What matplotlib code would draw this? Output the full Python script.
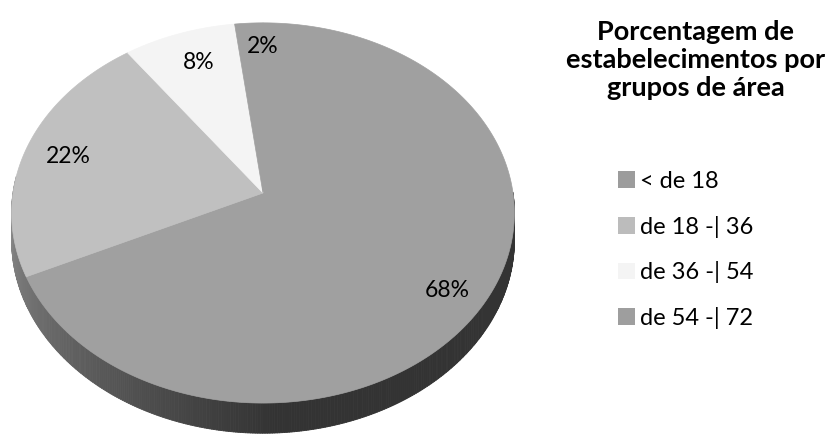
import numpy as np
import matplotlib

matplotlib.use("Agg")
import matplotlib.pyplot as plt  # noqa: E402
from matplotlib.collections import PolyCollection  # noqa: E402
from matplotlib.patches import Polygon, Patch  # noqa: E402

# ---- data (percent of establishments by area group) ----
categories = ["< de 18", "de 18 -| 36", "de 36 -| 54", "de 54 -| 72"]
shares = [68, 22, 8, 2]
colors = ["#a0a0a0", "#c0c0c0", "#f4f4f4", "#a0a0a0"]
legend_colors = ["#9c9c9c", "#bcbcbc", "#f4f4f4", "#9e9e9e"]
title = "Porcentagem de\nestabelecimentos por\ngrupos de área"

# ---- fake 3D geometry, in figure pixels ----
W, H = 828, 434
CX, CY = 263, 193      # projected centre of the pie
RX, RY = 250, 188      # radii of the rim
K = 0.105              # perspective: far side shrinks
DEPTH = 27             # thickness of the disc
LABEL_R = [0.86, 0.82, 0.80, 0.80]
LABEL_NUDGE = [(-7, 6), (0, 1), (4, -1), (11, -8)]

plt.rcParams["font.family"] = ["Lato", "DejaVu Sans"]


def proj(phi, r=1.0, z=0.0):
    s = 1.0 / (1.0 + K * r * np.sin(phi))
    x = CX + RX * r * np.cos(phi) * s
    y = CY - RY * r * np.sin(phi) * s + z * s
    return x, y


def side_shade(phi_deg):
    return 0.32 + np.clip(272 - phi_deg, 0, None) * 0.006


fig = plt.figure(figsize=(W / 100, H / 100), dpi=100)
ax = fig.add_axes([0, 0, 1, 1])
ax.set_xlim(0, W)
ax.set_ylim(H, 0)
ax.axis("off")

# slice angles: start at 12 o'clock, clockwise
bounds = 90 - 3.6 * np.concatenate([[0], np.cumsum(shares)])

# ---- side wall (front half only) ----
quads, qcols = [], []
for i, c in enumerate(colors):
    a0, a1 = bounds[i], bounds[i + 1]
    angs = np.linspace(a0, a1, max(4, int(abs(a1 - a0) * 2)))
    base = np.array(matplotlib.colors.to_rgb(c))
    for p, q in zip(angs[:-1], angs[1:]):
        pm = ((p + q) / 2) % 360
        if pm < 175:
            continue
        x1, y1 = proj(np.radians(p))
        x2, y2 = proj(np.radians(q))
        x3, y3 = proj(np.radians(q), z=DEPTH)
        x4, y4 = proj(np.radians(p), z=DEPTH)
        quads.append([(x1, y1), (x2, y2), (x3, y3), (x4, y4)])
        qcols.append(np.clip(base * side_shade(pm) / base.mean() * 0.63, 0, 1))
ax.add_collection(PolyCollection(quads, facecolors=qcols, edgecolors=qcols,
                                 linewidths=0.6, zorder=1))

# ---- top face ----
for i, c in enumerate(colors):
    a0, a1 = bounds[i], bounds[i + 1]
    angs = np.radians(np.linspace(a0, a1, max(3, int(abs(a1 - a0) * 2))))
    xs, ys = proj(angs)
    pts = [(CX, CY)] + list(zip(xs, ys))
    ax.add_patch(Polygon(pts, closed=True, facecolor=c, edgecolor=c,
                         linewidth=0.5, zorder=2))

# ---- percentage labels ----
for i, v in enumerate(shares):
    mid = np.radians((bounds[i] + bounds[i + 1]) / 2)
    x, y = proj(mid, r=LABEL_R[i])
    dx, dy = LABEL_NUDGE[i]
    ax.text(x + dx, y + dy, f"{v}%", ha="center", va="center",
            fontsize=16.5, color="#000000", zorder=3)

# ---- title and legend ----
fig.text(696 / W, 1 - 60 / H, title, ha="center", va="center",
         fontsize=19.5, fontweight="bold", color="#000000", linespacing=1.22)

handles = [Patch(facecolor=c, edgecolor="none", label=l)
           for c, l in zip(legend_colors, categories)]
leg = fig.legend(handles=handles, loc="upper left",
                 bbox_to_anchor=(618 / W, 1 - 171 / H), frameon=False,
                 fontsize=17, handlelength=0.7, handleheight=0.7,
                 handletextpad=0.25, labelspacing=1.0, borderaxespad=0,
                 borderpad=0)

fig.savefig("out.png", dpi=100, facecolor="white")
